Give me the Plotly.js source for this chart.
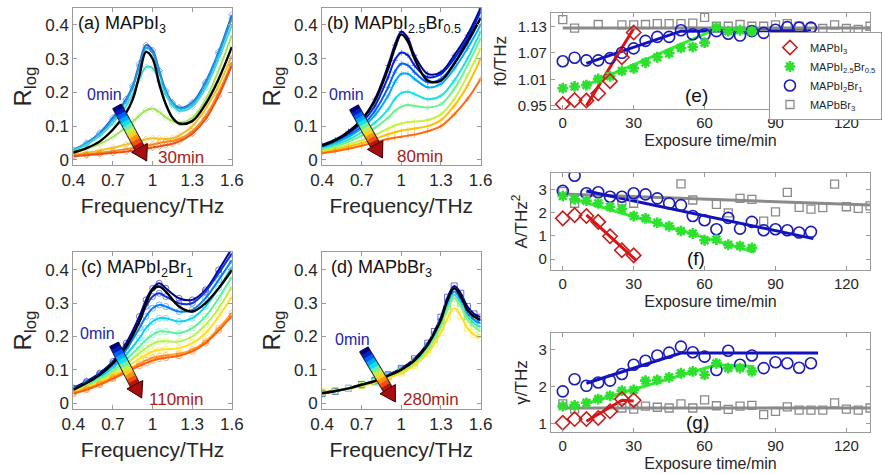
<!DOCTYPE html>
<html><head><meta charset="utf-8">
<script src="https://cdn.plot.ly/plotly-3.0.1.min.js"></script>
<style>html,body{margin:0;padding:0;background:#fff}#chart{width:882px;height:474px}</style>
</head><body><div id="chart"></div>
<script>
// ---------------- DATA ----------------
// Panel (a) MAPbI3, 0-30 min
const freqA = [0.4,0.5,0.6,0.7,0.8,0.85,0.9,0.95,1.0,1.05,1.1,1.15,1.2,1.3,1.4,1.5,1.6];
const a_t0  = [0.030,0.050,0.080,0.125,0.180,0.220,0.285,0.340,0.325,0.265,0.205,0.170,0.155,0.170,0.230,0.320,0.430];
const a_t5  = [0.029,0.048,0.077,0.120,0.175,0.215,0.278,0.332,0.318,0.260,0.200,0.166,0.152,0.166,0.225,0.315,0.420];
const a_t10 = [0.027,0.045,0.072,0.110,0.160,0.195,0.240,0.275,0.272,0.235,0.193,0.162,0.146,0.158,0.212,0.300,0.400];
const a_t15 = [0.020,0.033,0.048,0.068,0.097,0.113,0.132,0.147,0.152,0.142,0.126,0.115,0.110,0.125,0.178,0.265,0.370];
const a_t20 = [0.016,0.021,0.028,0.036,0.046,0.051,0.056,0.061,0.064,0.063,0.062,0.064,0.072,0.100,0.150,0.220,0.310];
const a_t25 = [0.013,0.017,0.021,0.026,0.032,0.035,0.038,0.042,0.046,0.050,0.054,0.057,0.062,0.085,0.130,0.200,0.290];
const a_t30 = [0.011,0.014,0.017,0.021,0.025,0.028,0.031,0.034,0.037,0.040,0.044,0.048,0.055,0.078,0.120,0.190,0.280];
const a_fit = [0.022,0.035,0.055,0.090,0.140,0.180,0.250,0.320,0.300,0.225,0.165,0.125,0.108,0.115,0.165,0.240,0.335];

// Panel (b) MAPbI2.5Br0.5, 0-80 min
const freqB = [0.4,0.5,0.6,0.7,0.8,0.9,0.95,1.0,1.05,1.1,1.2,1.3,1.4,1.5,1.6];
const b_t0  = [0.045,0.060,0.085,0.120,0.180,0.280,0.340,0.380,0.360,0.310,0.255,0.260,0.310,0.370,0.450];
const b_t10 = [0.040,0.055,0.078,0.110,0.160,0.245,0.295,0.318,0.310,0.280,0.245,0.255,0.300,0.360,0.440];
const b_t20 = [0.038,0.052,0.072,0.100,0.145,0.215,0.260,0.285,0.280,0.260,0.230,0.240,0.285,0.345,0.420];
const b_t30 = [0.036,0.050,0.068,0.094,0.132,0.190,0.230,0.255,0.255,0.240,0.215,0.225,0.270,0.330,0.400];
const b_t40 = [0.033,0.045,0.060,0.082,0.110,0.150,0.180,0.198,0.202,0.195,0.180,0.190,0.235,0.300,0.380];
const b_t50 = [0.030,0.040,0.054,0.072,0.095,0.125,0.145,0.158,0.163,0.160,0.155,0.165,0.210,0.280,0.360];
const b_t60 = [0.025,0.034,0.045,0.058,0.074,0.093,0.102,0.108,0.112,0.114,0.118,0.135,0.180,0.250,0.330];
const b_t70 = [0.022,0.030,0.039,0.050,0.062,0.076,0.082,0.087,0.090,0.093,0.100,0.118,0.160,0.220,0.300];
const b_t80 = [0.020,0.026,0.033,0.042,0.052,0.062,0.066,0.069,0.072,0.075,0.085,0.100,0.135,0.180,0.240];
const b_fit = [0.042,0.058,0.082,0.118,0.175,0.270,0.330,0.372,0.350,0.300,0.235,0.235,0.285,0.350,0.420];

// Panel (c) MAPbI2Br1, 0-110 min
const freqC = [0.4,0.5,0.6,0.7,0.8,0.9,0.95,1.0,1.05,1.1,1.2,1.3,1.4,1.5,1.6];
const c_t0   = [0.045,0.065,0.090,0.125,0.180,0.260,0.310,0.345,0.360,0.345,0.315,0.310,0.340,0.400,0.465];
const c_t15  = [0.044,0.062,0.087,0.120,0.172,0.245,0.290,0.320,0.330,0.320,0.300,0.300,0.335,0.390,0.450];
const c_t30  = [0.042,0.060,0.083,0.114,0.160,0.225,0.260,0.285,0.295,0.290,0.275,0.280,0.315,0.370,0.430];
const c_t45  = [0.040,0.057,0.078,0.106,0.145,0.195,0.225,0.245,0.255,0.255,0.245,0.255,0.290,0.345,0.410];
const c_t60  = [0.038,0.053,0.072,0.097,0.130,0.170,0.190,0.205,0.215,0.215,0.210,0.225,0.260,0.315,0.380];
const c_t75  = [0.035,0.050,0.067,0.090,0.118,0.150,0.165,0.178,0.185,0.186,0.185,0.200,0.235,0.285,0.350];
const c_t90  = [0.032,0.046,0.062,0.083,0.107,0.133,0.145,0.155,0.160,0.162,0.165,0.180,0.210,0.260,0.320];
const c_t100 = [0.030,0.043,0.058,0.077,0.098,0.118,0.128,0.136,0.140,0.143,0.148,0.160,0.185,0.225,0.270];
const c_t110 = [0.028,0.040,0.055,0.073,0.093,0.112,0.120,0.128,0.133,0.136,0.142,0.155,0.180,0.218,0.262];
const c_fit  = [0.040,0.060,0.085,0.120,0.170,0.245,0.300,0.340,0.350,0.335,0.290,0.275,0.300,0.345,0.400];

// Panel (d) MAPbBr3, 0-280 min
const freqD = [0.4,0.5,0.6,0.7,0.8,0.9,1.0,1.1,1.2,1.25,1.3,1.35,1.4,1.45,1.5,1.55,1.6];
const d_t0   = [0.028,0.035,0.044,0.056,0.068,0.085,0.104,0.133,0.180,0.215,0.258,0.318,0.352,0.330,0.290,0.268,0.258];
const d_t60  = [0.030,0.036,0.044,0.055,0.066,0.082,0.100,0.127,0.172,0.205,0.245,0.300,0.335,0.310,0.270,0.250,0.240];
const d_t120 = [0.031,0.037,0.044,0.054,0.065,0.080,0.097,0.123,0.166,0.198,0.237,0.290,0.325,0.300,0.260,0.240,0.228];
const d_t180 = [0.032,0.037,0.044,0.053,0.063,0.077,0.094,0.119,0.160,0.190,0.228,0.280,0.315,0.290,0.250,0.230,0.215];
const d_t280 = [0.034,0.038,0.044,0.052,0.061,0.074,0.090,0.113,0.150,0.178,0.212,0.255,0.285,0.262,0.225,0.205,0.195];
const d_fit  = [0.030,0.036,0.044,0.055,0.066,0.082,0.100,0.128,0.175,0.210,0.250,0.310,0.345,0.320,0.280,0.260,0.250];

// Panels (e)(f)(g): fitted parameters vs exposure time
const tI3   = [0,5,10,15,20,25,30];
const f0_I3 = [0.954,0.963,0.962,0.978,1.006,1.060,1.116];
const A_I3  = [1.75,1.89,1.85,1.60,0.98,0.38,0.16];
const g_I3  = [1.03,1.13,1.13,1.16,1.34,1.67,1.64];

const tBr05   = [0,5,10,15,20,25,30,35,40,45,50,55,60,65,70,75,80];
const f0_Br05 = [0.990,0.994,0.997,1.011,1.017,1.029,1.035,1.048,1.060,1.069,1.081,1.083,1.093,1.127,1.119,1.121,1.119];
const A_Br05  = [2.71,2.57,2.51,2.40,2.25,2.15,1.85,1.75,1.56,1.41,1.21,1.10,0.81,0.84,0.62,0.56,0.48];
const g_Br05  = [1.48,1.50,1.57,1.67,1.76,1.90,1.92,2.17,2.19,2.26,2.37,2.42,2.33,2.64,2.51,2.51,2.42];

const tBr1   = [0,5,10,15,20,25,30,35,40,45,50,55,60,65,70,75,80,85,90,95,100,105];
const f0_Br1 = [1.051,1.059,1.053,1.053,1.058,1.070,1.080,1.097,1.106,1.106,1.121,1.112,1.112,1.119,1.113,1.109,1.119,1.115,1.122,1.128,1.127,1.127];
const A_Br1  = [2.93,3.58,2.83,2.87,2.68,2.68,2.83,2.78,2.61,2.40,2.32,1.85,1.67,1.28,1.77,1.31,1.60,1.24,1.28,1.24,1.14,1.17];
const g_Br1  = [1.88,2.21,2.03,2.12,2.17,2.35,2.60,2.71,2.85,2.93,3.09,2.94,2.82,2.46,2.98,2.60,2.85,2.51,2.67,2.64,2.52,2.64];

const tBr3_f0 = [0,5,15,25,30,35,40,45,50,55,60,65,70,75,80,85,90,95,100,105,110,115,120,125,130];
const f0_Br3  = [1.145,1.126,1.134,1.133,1.133,1.134,1.136,1.136,1.136,1.137,1.150,1.130,1.130,1.134,1.130,1.130,1.133,1.136,1.130,1.127,1.125,1.133,1.125,1.123,1.130];
const tBr3_A  = [0,5,25,30,50,55,65,70,75,80,85,90,95,100,105,110,115,120,125,130];
const A_Br3   = [2.90,2.40,2.50,2.40,3.23,2.54,2.35,1.99,2.61,2.57,1.63,2.03,2.87,2.22,2.15,2.21,3.22,2.25,2.18,2.29];
const tBr3_g  = [0,5,25,30,35,40,45,50,55,60,65,70,75,80,85,90,95,100,105,110,115,120,125,130];
const g_Br3   = [1.54,1.40,1.43,1.40,1.48,1.45,1.43,1.54,1.43,1.65,1.49,1.39,1.48,1.50,1.25,1.34,1.46,1.37,1.37,1.37,1.57,1.40,1.37,1.43];

// linear fits (segment end points)
const fitT_f0_I3 = [10,30],      fitV_f0_I3 = [0.950,1.125];
const fitT_f0_Br05 = [10,65,80], fitV_f0_Br05 = [0.997,1.124,1.122];
const fitT_f0_Br1 = [10,50,105], fitV_f0_Br1 = [1.046,1.119,1.120];
const fitT_f0_Br3 = [0,130],     fitV_f0_Br3 = [1.126,1.126];
const fitT_A_I3 = [10,31],       fitV_A_I3 = [1.90,-0.05];
const fitT_A_Br05 = [5,81],      fitV_A_Br05 = [2.57,0.30];
const fitT_A_Br1 = [10,106],     fitV_A_Br1 = [2.93,0.88];
const fitT_A_Br3 = [0,130],      fitV_A_Br3 = [2.80,2.32];
const fitT_g_I3 = [10,25,30],    fitV_g_I3 = [1.07,1.64,1.62];
const fitT_g_Br05 = [10,65,81],  fitV_g_Br05 = [1.55,2.60,2.55];
const fitT_g_Br1 = [10,50,108],  fitV_g_Br1 = [2.10,2.92,2.92];
const fitT_g_Br3 = [0,130],      fitV_g_Br3 = [1.43,1.43];

const freqTicks = [0.4,0.7,1,1.3,1.6];
const freqTickText = ['0.4','0.7','1','1.3','1.6'];
const rTicks = [0,0.1,0.2,0.3,0.4];
const rTickText = ['0','0.1','0.2','0.3','0.4'];
const timeTicks = [0,30,60,90,120];
const f0Ticks = [0.95,1.01,1.07,1.13];
const ATicks = [0,1,2,3];
const gTicks = [1,2,3];
const seriesNames = ['MAPbI<sub>3</sub>','MAPbI<sub>2.5</sub>Br<sub>0.5</sub>','MAPbI<sub>2</sub>Br<sub>1</sub>','MAPbBr<sub>3</sub>'];

// ---------------- STYLE ----------------
const W = 882, H = 474;
const PX = x => x / W, PY = y => 1 - y / H;
const dx = (a, b) => [a / W, b / W];
const dy = (top, bot) => [1 - bot / H, 1 - top / H];
const FONT = 'Liberation Sans, Arial, sans-serif';
const TXT = '#262626';

const aColors = ['#1d5fd8','#1e9be0','#3ed6d6','#a6e05a','#f2c020','#f5901e','#e8521a'];
const bColors = ['#00008f','#0020e0','#0060ff','#00a8ff','#20e0e0','#70f090','#c8f040','#ffc000','#ff6a10'];
const cColors = ['#00008f','#1030e0','#0080ff','#10d0f0','#60f0a0','#b8f050','#ffe020','#ffa020','#ff6010'];
const dColors = ['#00008f','#0070ff','#20e0e0','#90f070','#ffe020','#ff7010'];

const traces = [];
function spectra(xa, ya, freq, curves, colors, fit, sym, msize) {
  curves.forEach((c, i) => {
    traces.push({x: freq, y: c, xaxis: xa, yaxis: ya, type: 'scatter', mode: 'lines+markers',
      line: {color: colors[i], width: 2, shape: 'spline', smoothing: 1},
      marker: {symbol: sym, size: msize, color: colors[i], opacity: 0.55, line: {width: 1}},
      showlegend: false, hoverinfo: 'skip'});
  });
  traces.push({x: freq, y: fit, xaxis: xa, yaxis: ya, type: 'scatter', mode: 'lines',
    line: {color: '#000000', width: 2.4, shape: 'spline', smoothing: 1}, showlegend: false, hoverinfo: 'skip'});
}
spectra('x', 'y', freqA, [a_t0,a_t5,a_t10,a_t15,a_t20,a_t25,a_t30], aColors, a_fit, 'diamond-open', 5);
spectra('x2', 'y2', freqB, [b_t0,b_t10,b_t20,b_t30,b_t40,b_t50,b_t60,b_t70,b_t80], bColors, b_fit, 'cross-thin-open', 4);
spectra('x3', 'y3', freqC, [c_t0,c_t15,c_t30,c_t45,c_t60,c_t75,c_t90,c_t100,c_t110], cColors, c_fit, 'circle-open', 6);
spectra('x4', 'y4', freqD, [d_t0,d_t60,d_t120,d_t180,d_t280], dColors, d_fit, 'square-open', 6);

const SER = [
  {name: seriesNames[3], color: '#8a8a8a', sym: 'square-open', size: 8, lw: 1.3},
  {name: seriesNames[2], color: '#1a1ab8', sym: 'circle-open', size: 11, lw: 1.6},
  {name: seriesNames[1], color: '#2ee02e', sym: 'asterisk-open', size: 9, lw: 2.6},
  {name: seriesNames[0], color: '#c81e1e', sym: 'diamond-open', size: 11, lw: 1.6},
];
const fitColor = ['#8a8a8a','#1010c0','#30f030','#e01010'];
function param(xa, ya, pts, fits, legend) {
  // pts, fits ordered: Br3, Br1, Br05, I3
  fits.forEach((f, i) => traces.push({x: f[0], y: f[1], xaxis: xa, yaxis: ya, type: 'scatter', mode: 'lines',
    line: {color: fitColor[i], width: 3}, showlegend: false, hoverinfo: 'skip'}));
  pts.forEach((p, i) => traces.push({x: p[0], y: p[1], xaxis: xa, yaxis: ya, type: 'scatter', mode: 'markers',
    name: SER[i].name, legendrank: 10 - i, showlegend: legend,
    marker: {symbol: SER[i].sym, size: SER[i].size, color: SER[i].color, line: {color: SER[i].color, width: SER[i].lw}},
    hoverinfo: 'skip'}));
}
param('x5', 'y5',
  [[tBr3_f0, f0_Br3], [tBr1, f0_Br1], [tBr05, f0_Br05], [tI3, f0_I3]],
  [[fitT_f0_Br3, fitV_f0_Br3], [fitT_f0_Br1, fitV_f0_Br1], [fitT_f0_Br05, fitV_f0_Br05], [fitT_f0_I3, fitV_f0_I3]], true);
param('x6', 'y6',
  [[tBr3_A, A_Br3], [tBr1, A_Br1], [tBr05, A_Br05], [tI3, A_I3]],
  [[fitT_A_Br3, fitV_A_Br3], [fitT_A_Br1, fitV_A_Br1], [fitT_A_Br05, fitV_A_Br05], [fitT_A_I3, fitV_A_I3]], false);
param('x7', 'y7',
  [[tBr3_g, g_Br3], [tBr1, g_Br1], [tBr05, g_Br05], [tI3, g_I3]],
  [[fitT_g_Br3, fitV_g_Br3], [fitT_g_Br1, fitV_g_Br1], [fitT_g_Br05, fitV_g_Br05], [fitT_g_I3, fitV_g_I3]], false);

function ax(extra) {
  return Object.assign({showline: true, mirror: 'ticks', linecolor: '#9a9a9a', linewidth: 1,
    ticks: 'inside', ticklen: 4, tickcolor: '#9a9a9a', showgrid: false, zeroline: false,
    tickfont: {family: FONT, size: 17, color: TXT}}, extra);
}
function freqAxis(dom, anchor) {
  return ax({domain: dom, anchor: anchor, range: [0.4, 1.6], tickvals: freqTicks, ticktext: freqTickText,
    title: {text: 'Frequency/THz', font: {family: FONT, size: 21, color: TXT}, standoff: 8}});
}
function rAxis(dom, anchor, range) {
  return ax({domain: dom, anchor: anchor, range: range, tickvals: rTicks, ticktext: rTickText,
    title: {text: 'R<sub>log</sub>', font: {family: FONT, size: 24, color: TXT}, standoff: 6}});
}
function timeAxis(dom, anchor) {
  return ax({domain: dom, anchor: anchor, range: [-5, 130], tickvals: timeTicks,
    tickfont: {family: FONT, size: 15, color: TXT},
    title: {text: 'Exposure time/min', font: {family: FONT, size: 16, color: TXT}, standoff: 4}});
}
function parAxis(dom, anchor, range, ticks, fmt, title) {
  return ax({domain: dom, anchor: anchor, range: range, tickvals: ticks, ticktext: ticks.map(fmt),
    tickfont: {family: FONT, size: 15, color: TXT},
    title: {text: title, font: {family: FONT, size: 17, color: TXT}, standoff: 6}});
}

const xA = dx(74, 234), xB = dx(325, 485), xE = dx(556, 878);
const yAB = dy(8, 165), yCD = dy(252, 409);
const layout = {
  width: W, height: H, margin: {l: 0, r: 0, t: 0, b: 0}, paper_bgcolor: '#fff', plot_bgcolor: '#fff',
  font: {family: FONT, color: TXT},
  xaxis: freqAxis(xA, 'y'), yaxis: rAxis(yAB, 'x', [-0.015, 0.45]),
  xaxis2: freqAxis(xB, 'y2'), yaxis2: rAxis(yAB, 'x2', [-0.015, 0.45]),
  xaxis3: freqAxis(xA, 'y3'), yaxis3: rAxis(yCD, 'x3', [-0.018, 0.454]),
  xaxis4: freqAxis(xB, 'y4'), yaxis4: rAxis(yCD, 'x4', [-0.018, 0.454]),
  xaxis5: timeAxis(xE, 'y5'), yaxis5: parAxis(dy(13, 109), 'x5', [0.943, 1.16], f0Ticks, v => v.toFixed(2), 'f0/THz'),
  xaxis6: timeAxis(xE, 'y6'), yaxis6: parAxis(dy(173, 270), 'x6', [-0.47, 3.7], ATicks, v => String(v), 'A/THz<sup>2</sup>'),
  xaxis7: timeAxis(xE, 'y7'), yaxis7: parAxis(dy(333, 432), 'x7', [0.78, 3.46], gTicks, v => String(v), 'γ/THz'),
  showlegend: true,
  legend: {x: PX(776), y: PY(32), xanchor: 'left', yanchor: 'top', bgcolor: '#ffffff', bordercolor: '#9a9a9a',
    borderwidth: 1, font: {family: FONT, size: 11, color: TXT}, traceorder: 'normal', tracegroupgap: 0, itemwidth: 30},
  annotations: [], shapes: []
};

function note(text, x, y, size, color, anchor) {
  layout.annotations.push({text: text, xref: 'paper', yref: 'paper', x: PX(x), y: PY(y), showarrow: false,
    xanchor: anchor || 'center', yanchor: 'middle', font: {family: FONT, size: size, color: color}});
}
note('(a) MAPbI<sub>3</sub>', 77, 24, 18, '#111', 'left');
note('(b) MAPbI<sub>2.5</sub>Br<sub>0.5</sub>', 328, 24, 18, '#111', 'left');
note('(c) MAPbI<sub>2</sub>Br<sub>1</sub>', 80, 268, 18, '#111', 'left');
note('(d) MAPbBr<sub>3</sub>', 332, 268, 18, '#111', 'left');
const BLUE_T = '#2424a8', RED_T = '#a52222';
note('0min', 105, 94, 16, BLUE_T); note('30min', 183, 158, 17, RED_T);
note('0min', 350, 94, 16, BLUE_T); note('80min', 424, 156, 17, RED_T);
note('0min', 98, 333, 16, BLUE_T); note('110min', 178, 399, 17, RED_T);
note('0min', 356, 339, 16, BLUE_T); note('280min', 435, 399, 17, RED_T);
note('(e)', 703, 95, 19, '#111'); note('(f)', 702, 258, 19, '#111'); note('(g)', 704, 422, 19, '#111');

// gradient arrows (jet-like colours)
const jet = ['#00007f','#0020c0','#0060ff','#00a8ff','#10e0f0','#70f0a0','#c0f050','#ffd020','#ff9010','#f05010','#c01008'];
function gradArrow(x0, y0, x1, y1) {
  const L = Math.hypot(x1 - x0, y1 - y0), ux = (x1 - x0) / L, uy = (y1 - y0) / L;
  const hl = 15, hw = 9, sw = 9;
  const ex = x1 - ux * hl, ey = y1 - uy * hl;
  layout.shapes.push({type: 'line', xref: 'paper', yref: 'paper', x0: PX(x0), y0: PY(y0), x1: PX(ex), y1: PY(ey),
    line: {color: '#222', width: sw + 2}});
  const n = jet.length;
  for (let i = 0; i < n; i++) {
    const s0 = i / n, s1 = Math.min(1, (i + 1.3) / n);
    layout.shapes.push({type: 'line', xref: 'paper', yref: 'paper',
      x0: PX(x0 + (ex - x0) * s0), y0: PY(y0 + (ey - y0) * s0), x1: PX(x0 + (ex - x0) * s1), y1: PY(y0 + (ey - y0) * s1),
      line: {color: jet[i], width: sw}});
  }
  const px = -uy, py = ux;
  const pts = [[x1, y1], [ex + px * hw, ey + py * hw], [ex - px * hw, ey - py * hw]];
  layout.shapes.push({type: 'path', xref: 'paper', yref: 'paper',
    path: 'M' + pts.map(p => PX(p[0]) + ',' + PY(p[1])).join('L') + 'Z',
    fillcolor: '#a80c0c', line: {color: '#300', width: 1}});
}
gradArrow(118, 106, 148, 161);
gradArrow(357, 107, 386, 158);
gradArrow(115, 344, 143, 398);
gradArrow(367, 349, 399, 402);

Plotly.newPlot('chart', traces, layout, {staticPlot: true, displayModeBar: false});
</script></body></html>
